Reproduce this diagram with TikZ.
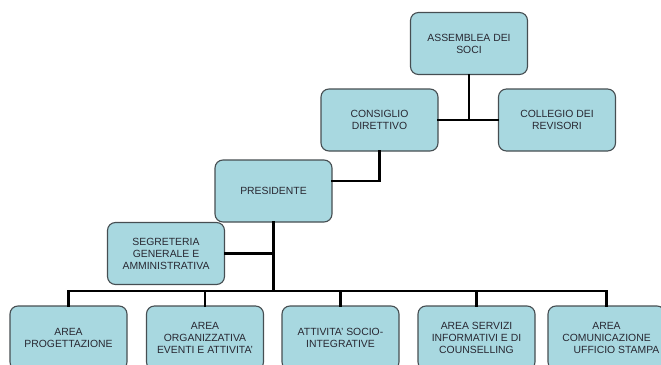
\documentclass[tikz,border=0pt]{standalone}
\usepackage{fontspec}
\setmainfont{Liberation Sans}
\usepackage{tikz}
\usetikzlibrary{positioning}

\definecolor{boxfill}{RGB}{168,216,224}
\definecolor{boxline}{RGB}{70,78,82}
\definecolor{boxtext}{RGB}{40,40,50}

\tikzset{
  orgbox/.style={draw=boxline, line width=1.1pt, fill=boxfill, rounded corners=8pt,
    text=boxtext, align=center, inner sep=1pt, minimum width=117pt, minimum height=62pt,
    font=\fontsize{10.4}{12}\selectfont},
  link/.style={line width=2.8pt, line cap=rect}
}

\begin{document}
\begin{tikzpicture}[x=1pt,y=-1pt]
\useasboundingbox (0,0) rectangle (661,364);

%Top levels
\node [orgbox] (soci) at (469,43.5) {ASSEMBLEA DEI\\SOCI};
\node [orgbox] (consiglio) at (379.5,120) {CONSIGLIO\\DIRETTIVO};
\node [orgbox] (collegio) at (557,120) {COLLEGIO DEI\\REVISORI};
\node [orgbox] (presidente) at (273.5,191) {PRESIDENTE};
\node [orgbox] (segreteria) at (166,253.5) {SEGRETERIA\\GENERALE E\\AMMINISTRATIVA};

%Areas
\node [orgbox, minimum height=64pt] (area1) at (68.5,338) {AREA\\PROGETTAZIONE};
\node [orgbox, minimum height=64pt] (area2) at (205,338) {AREA\\ORGANIZZATIVA\\EVENTI E ATTIVITA'};
\node [orgbox, minimum height=64pt] (area3) at (340.5,338) {ATTIVITA' SOCIO-\\INTEGRATIVE};
\node [orgbox, minimum height=64pt] (area4) at (476.5,338) {AREA SERVIZI\\INFORMATIVI E DI\\COUNSELLING};
\node [orgbox, minimum height=64pt] (area5) at (606.5,338) {AREA\\COMUNICAZIONE\\\hspace*{20pt}UFFICIO STAMPA};

%Connectors
\coordinate (bus) at (0,291);
\draw [link] (soci.south) -- (soci.south |- consiglio.east);
\draw [link] (consiglio.east) -- (collegio.west);
\draw [link] (consiglio.south) |- ([yshift=10pt]presidente.east);
\draw [link] (presidente.south) -- (presidente.south |- bus);
\draw [link] (segreteria.east) -- (presidente.south |- segreteria.east);
\draw [link] (area1.north |- bus) -- (area5.north |- bus);
\foreach \a in {area1,area2,area3,area4,area5}
  \draw [link] (\a.north) -- (\a.north |- bus);

\end{tikzpicture}
\end{document}
